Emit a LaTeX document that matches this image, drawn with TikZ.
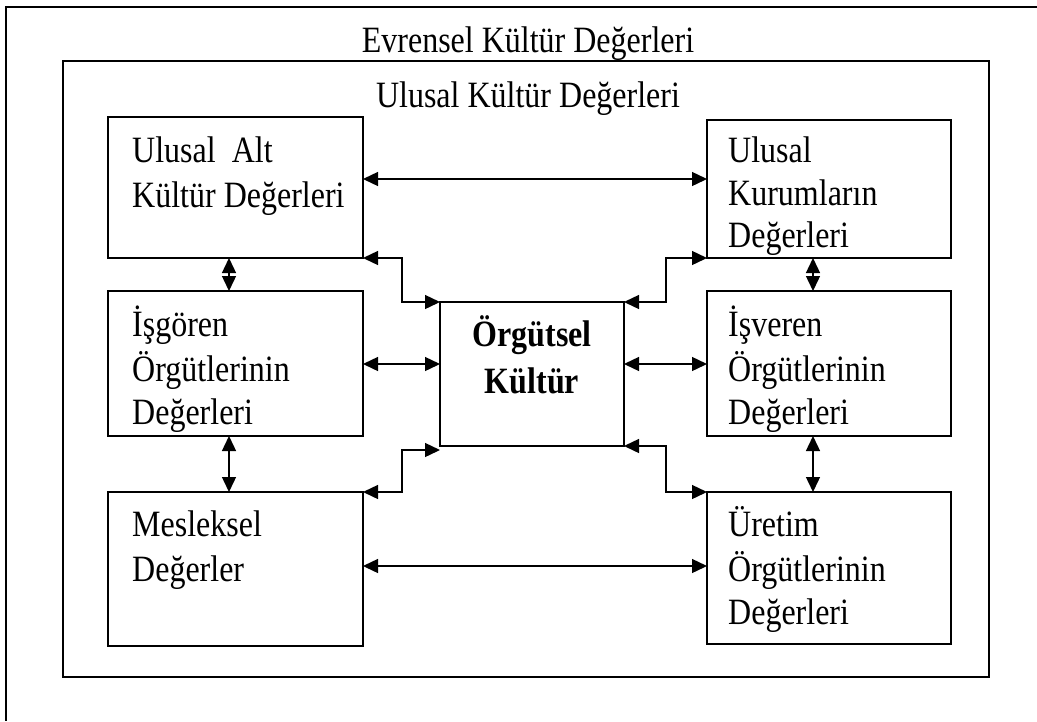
\documentclass[tikz,border=0pt]{standalone}
\usepackage{graphicx}
\usepackage{fontspec}
\setmainfont{Liberation Serif}
\usetikzlibrary{arrows.meta}
\newcommand{\stx}[1]{\scalebox{1}[1.16]{#1}}
\begin{document}
\begin{tikzpicture}[x=1pt,y=-1pt,
  box/.style={draw,line width=1.4pt,rectangle,inner sep=0pt,outer sep=0pt,anchor=north west},
  txt/.style={inner sep=0pt,anchor=base west,font=\fontsize{32}{44}\selectfont},
  ttl/.style={inner sep=0pt,anchor=base,font=\fontsize{32}{44}\selectfont},
  arr/.style={line width=1.4pt,{Triangle[length=15pt,width=14pt]}-{Triangle[length=15pt,width=14pt]}},
  frame/.style={line width=1.4pt}]
\useasboundingbox (0,0) rectangle (1037,721);
% outer frame (only top and left visible)
\coordinate (o1) at (4,7);
\coordinate (o2) at (1037,7);
\coordinate (o3) at (6,721);
\draw[frame] (o2) -- (o1 -| o3) -- (o3);
\node[ttl] (evr) at (528,52) {\stx{Evrensel Kültür Değerleri}};
% inner frame
\node[box,minimum width=926pt,minimum height=616pt] (inner) at (63,61) {};
\node[ttl] (ulu) at (528,107) {\stx{Ulusal Kültür Değerleri}};
% boxes
\node[box,minimum width=255pt,minimum height=141pt] (ua) at (108,117) {};
\node[box,minimum width=244pt,minimum height=138pt] (uk) at (707,120) {};
\node[box,minimum width=255pt,minimum height=145pt] (isg) at (108,291) {};
\node[box,minimum width=184pt,minimum height=144pt] (org) at (440,302) {};
\node[box,minimum width=244pt,minimum height=145pt] (isv) at (707,291) {};
\node[box,minimum width=255pt,minimum height=154pt] (mes) at (108,492) {};
\node[box,minimum width=244pt,minimum height=152pt] (ure) at (707,492) {};
% texts
\node[txt] (ua1) at (132,162) {\stx{Ulusal\ \ Alt}};
\node[txt] (ua2) at (132,207) {\stx{Kültür Değerleri}};
\node[txt] (uk1) at (728,162) {\stx{Ulusal}};
\node[txt] (uk2) at (728,205) {\stx{Kurumların}};
\node[txt] (uk3) at (728,247) {\stx{Değerleri}};
\node[txt] (isg1) at (132,336) {\stx{İşgören}};
\node[txt] (isg2) at (132,381) {\stx{Örgütlerinin}};
\node[txt] (isg3) at (132,424) {\stx{Değerleri}};
\node[txt] (isv1) at (728,336) {\stx{İşveren}};
\node[txt] (isv2) at (728,381) {\stx{Örgütlerinin}};
\node[txt] (isv3) at (728,424) {\stx{Değerleri}};
\node[txt] (mes1) at (132,536) {\stx{Mesleksel}};
\node[txt] (mes2) at (132,581) {\stx{Değerler}};
\node[txt] (ure1) at (728,536) {\stx{Üretim}};
\node[txt] (ure2) at (728,581) {\stx{Örgütlerinin}};
\node[txt] (ure3) at (728,624) {\stx{Değerleri}};
\node[ttl,font=\fontsize{32}{44}\selectfont\bfseries] (org1) at (532,346) {\stx{Örgütsel}};
\node[ttl,font=\fontsize{32}{44}\selectfont\bfseries] (org2) at (532,393) {\stx{Kültür}};
% connectors
\draw[arr] (ua.east |- 0,179) -- (uk.west |- 0,179);
\draw[arr] (mes.east |- 0,566) -- (ure.west |- 0,566);
\draw[arr] (isg.east |- 0,364) -- (org.west |- 0,364);
\draw[arr] (org.east |- 0,364) -- (isv.west |- 0,364);
\draw[arr] (ua.south -| 229,0) -- (isg.north -| 229,0);
\draw[arr] (uk.south -| 813,0) -- (isv.north -| 813,0);
\draw[arr] (isg.south -| 229,0) -- (mes.north -| 229,0);
\draw[arr] (isv.south -| 813,0) -- (ure.north -| 813,0);
\draw[arr] (ua.south east) -- ++(39,0) |- (org.north west);
\draw[arr] (org.north east) -- ++(42,0) |- (uk.south west);
\draw[arr] (mes.north east) -- ++(39,0) |- ([yshift=-4pt]org.south west);
\draw[arr] (org.south east) -- ++(42,0) |- (ure.north west);
\end{tikzpicture}
\end{document}
